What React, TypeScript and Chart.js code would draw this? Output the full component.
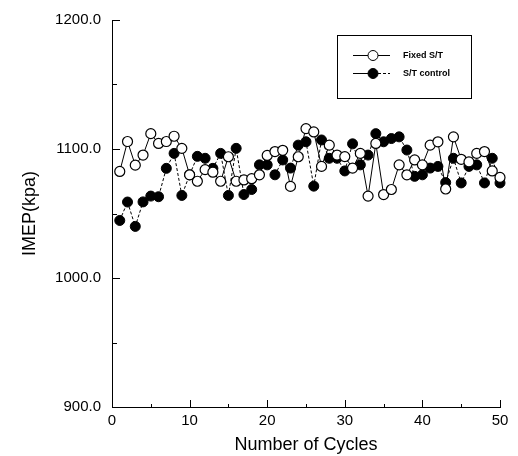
import React, { useEffect, useRef } from 'react';
import { Chart, registerables } from 'chart.js';

Chart.register(...registerables);

const cycles = [
  1, 2, 3, 4, 5, 6, 7, 8, 9, 10,
  11, 12, 13, 14, 15, 16, 17, 18, 19, 20,
  21, 22, 23, 24, 25, 26, 27, 28, 29, 30,
  31, 32, 33, 34, 35, 36, 37, 38, 39, 40,
  41, 42, 43, 44, 45, 46, 47, 48, 49, 50,
];

const fixedST = [
  1082.6, 1105.8, 1087.5, 1095.3, 1111.9, 1104.3, 1105.8, 1109.9, 1100.5, 1080,
  1075, 1084, 1082, 1075, 1094, 1075, 1076, 1077, 1080, 1095,
  1098, 1099, 1071, 1094, 1115.8, 1113.2, 1086.5, 1103, 1095.3, 1094.1,
  1085.2, 1096.6, 1063.5, 1104.3, 1064.7, 1068.6, 1087.7, 1080, 1091.5, 1087.7,
  1103, 1105.6, 1069, 1109.4, 1092, 1090, 1096.6, 1098, 1083, 1078,
];

const stControl = [
  1044.6, 1058.9, 1040, 1059, 1063.5, 1063, 1085, 1096.6, 1064, 1080,
  1094.3, 1092.8, 1085, 1096.6, 1064, 1100.5, 1064.7, 1068.6, 1087.7, 1087.7,
  1080, 1091.5, 1085.2, 1103, 1105.6, 1071.2, 1107, 1092.8, 1092.8, 1083,
  1104, 1087.7, 1095.3, 1111.9, 1105.6, 1108.1, 1109.4, 1099.2, 1078.8, 1080,
  1085.2, 1086.5, 1074, 1092.8, 1073.7, 1086.5, 1087.7, 1073.7, 1092.8, 1073.7,
];

const seriesLabels = ['Fixed S/T', 'S/T control'];
const xTitle = 'Number of Cycles';
const yTitle = 'IMEP(kpa)';

const FONT = "'Liberation Sans', Arial, Helvetica, sans-serif";

const innerTicks = {
  id: 'innerTicks',
  afterDraw(chart: any) {
    const { ctx, chartArea, scales } = chart;
    ctx.save();
    ctx.strokeStyle = '#000';
    ctx.lineWidth = 1;
    ctx.beginPath();
    scales.x.ticks.forEach((t: any) => {
      const px = Math.round(scales.x.getPixelForValue(t.value)) + 0.5;
      const len = t.value % 10 === 0 ? 7 : 3;
      ctx.moveTo(px, chartArea.bottom);
      ctx.lineTo(px, chartArea.bottom - len);
    });
    scales.y.ticks.forEach((t: any) => {
      const py = Math.round(scales.y.getPixelForValue(t.value)) + 0.5;
      const len = t.value % 100 === 0 ? 8 : 5;
      ctx.moveTo(chartArea.left, py);
      ctx.lineTo(chartArea.left + len, py);
    });
    ctx.stroke();
    ctx.restore();
  },
};

const boxLegend = {
  id: 'boxLegend',
  afterDraw(chart: any) {
    const { ctx } = chart;
    const x0 = 337, y0 = 35, x1 = 471, y1 = 98;
    ctx.save();
    ctx.strokeStyle = '#000';
    ctx.lineWidth = 1;
    ctx.strokeRect(x0 + 0.5, y0 + 0.5, x1 - x0, y1 - y0);
    const rows = [55, 73];
    chart.data.datasets.forEach((ds: any, i: number) => {
      const y = rows[i] + 0.5;
      const mx = 373;
      ctx.setLineDash([]);
      ctx.beginPath();
      ctx.moveTo(353, y);
      ctx.lineTo(mx, y);
      ctx.stroke();
      ctx.setLineDash(ds.borderDash || []);
      ctx.beginPath();
      ctx.moveTo(mx, y);
      ctx.lineTo(390, y);
      ctx.stroke();
      ctx.setLineDash([]);
      ctx.beginPath();
      ctx.arc(mx, y, ds.pointRadius, 0, Math.PI * 2);
      ctx.fillStyle = ds.pointBackgroundColor;
      ctx.fill();
      ctx.stroke();
      ctx.fillStyle = '#000';
      ctx.font = `bold 9px ${FONT}`;
      ctx.textBaseline = 'middle';
      ctx.textAlign = 'left';
      ctx.fillText(ds.label, 403, y);
    });
    ctx.restore();
  },
};

export default function App() {
  const ref = useRef<HTMLCanvasElement>(null);

  useEffect(() => {
    if (!ref.current) return;
    const chart = new Chart(ref.current, {
      type: 'line',
      data: {
        datasets: [
          {
            label: seriesLabels[0],
            data: cycles.map((c, i) => ({ x: c, y: fixedST[i] })),
            borderColor: '#000',
            borderWidth: 1,
            pointRadius: 5,
            pointBorderWidth: 1.2,
            pointBackgroundColor: '#fff',
            pointBorderColor: '#000',
            tension: 0,
            clip: false,
          } as any,
          {
            label: seriesLabels[1],
            data: cycles.map((c, i) => ({ x: c, y: stControl[i] })),
            borderColor: '#000',
            borderWidth: 1,
            borderDash: [3, 2],
            pointRadius: 5,
            pointBorderWidth: 1,
            pointBackgroundColor: '#000',
            pointBorderColor: '#000',
            tension: 0,
            clip: false,
          } as any,
        ],
      },
      options: {
        animation: false,
        responsive: true,
        maintainAspectRatio: false,
        layout: { padding: { left: 0, top: 15, right: 18, bottom: 0 } },
        plugins: {
          legend: { display: false },
          tooltip: { enabled: false },
        },
        scales: {
          x: {
            type: 'linear',
            min: 0,
            max: 50,
            afterFit: (s: any) => { s.height = 49; },
            grid: { display: false, drawTicks: false },
            border: { display: true, color: '#000', width: 1 },
            ticks: {
              stepSize: 5,
              autoSkip: false,
              maxRotation: 0,
              padding: 5,
              color: '#000',
              font: { family: FONT, size: 15 },
              callback: (v: any) => (Number(v) % 10 === 0 ? String(v) : ''),
            },
            title: {
              display: true,
              text: xTitle,
              color: '#000',
              font: { family: FONT, size: 18 },
              padding: { top: 0, bottom: 0 },
            },
          },
          y: {
            type: 'linear',
            min: 900,
            max: 1200,
            afterFit: (s: any) => { s.width = 112; },
            grid: { display: false, drawTicks: false },
            border: { display: true, color: '#000', width: 1 },
            ticks: {
              stepSize: 50,
              autoSkip: false,
              padding: 11,
              color: '#000',
              font: { family: FONT, size: 15 },
              callback: (v: any) => (Number(v) % 100 === 0 ? Number(v).toFixed(1) : ''),
            },
            title: {
              display: true,
              text: yTitle,
              color: '#000',
              font: { family: FONT, size: 18 },
              padding: { top: 19, bottom: 0 },
            },
          },
        },
      },
      plugins: [innerTicks, boxLegend],
    });
    return () => chart.destroy();
  }, []);

  return (
    <div style={{ position: 'absolute', left: 0, top: 0, width: 518, height: 456, background: '#fff' }}>
      <canvas ref={ref} />
    </div>
  );
}
